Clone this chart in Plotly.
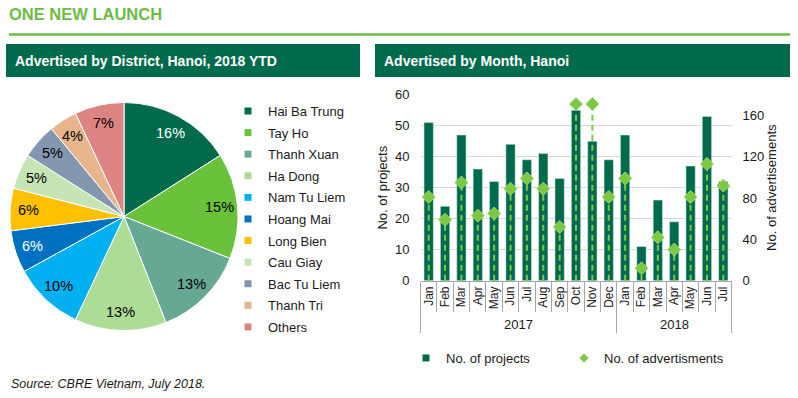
import math
import plotly.graph_objects as go

# ---------------- data ----------------
districts = ["Hai Ba Trung", "Tay Ho", "Thanh Xuan", "Ha Dong", "Nam Tu Liem",
             "Hoang Mai", "Long Bien", "Cau Giay", "Bac Tu Liem", "Thanh Tri", "Others"]
district_share = [16, 15, 13, 13, 10, 6, 6, 5, 5, 4, 7]
district_colors = ["#006A4D", "#69C23A", "#67A895", "#ADDC97", "#00B0F0",
                   "#0070C0", "#FFC000", "#C6E5B5", "#8497B0", "#E7B48B", "#DC8484"]
label_colors = ["white", "black", "black", "black", "black",
                "white", "black", "black", "black", "black", "black"]

months = ["Jan", "Feb", "Mar", "Apr", "May", "Jun", "Jul", "Aug", "Sep", "Oct", "Nov", "Dec",
          "Jan", "Feb", "Mar", "Apr", "May", "Jun", "Jul"]
years = ["2017"] * 12 + ["2018"] * 7
projects = [51, 24, 47, 36, 32, 44, 39, 41, 33, 55, 45, 39, 47, 11, 26, 19, 37, 53, 32]
adverts = [81, 59, 95, 63, 65, 89, 99, 89, 52, 171, 171, 81, 99, 12, 42, 30, 81, 113, 92]

W, H = 798, 398
DARK = "#006A4D"
LIME = "#6ABD45"
DOT = "#7DC843"
TXT = "#1a1a1a"
FONT = "Liberation Sans, Arial"


def px_x(v):
    return v / W


def px_y(v):
    return 1 - v / H


n = len(months)
xs = list(range(n))

# pie geometry (pixels)
PIE_L, PIE_R, PIE_T, PIE_B = 10, 238, 102.5, 330.5
pcx, pcy = (PIE_L + PIE_R) / 2, (PIE_T + PIE_B) / 2
prad = (PIE_R - PIE_L) / 2

fig = go.Figure()

# pie
fig.add_trace(go.Pie(
    labels=districts, values=district_share, sort=False, direction="clockwise",
    marker=dict(colors=district_colors, line=dict(color="white", width=1)),
    textinfo="none", showlegend=False,
    domain=dict(x=[px_x(PIE_L), px_x(PIE_R)], y=[px_y(PIE_B), px_y(PIE_T)]),
    hoverinfo="label+percent",
))

# pie legend entries
for i, (name, col) in enumerate(zip(districts, district_colors)):
    fig.add_trace(go.Scatter(
        x=[None], y=[None], mode="markers", name=name, legendgroup="d%d" % i,
        marker=dict(symbol="square", size=7, color=col), legend="legend",
        hoverinfo="skip",
    ))

# pie percentage labels at slice mid-angles
total = float(sum(district_share))
cum = 0.0
for v, tc in zip(district_share, label_colors):
    mid = (cum + v / 2) / total * 2 * math.pi
    cum += v
    lx_px = pcx + 0.84 * prad * math.sin(mid)
    ly_px = pcy - 0.84 * prad * math.cos(mid)
    fig.add_annotation(x=px_x(lx_px), y=px_y(ly_px), xref="paper", yref="paper",
                       text="%d%%" % round(v / total * 100), showarrow=False,
                       xanchor="center", yanchor="middle",
                       font=dict(size=14.5, color=tc, family=FONT))

# bars
fig.add_trace(go.Bar(
    x=xs, y=projects, name="No. of projects", marker=dict(color=DARK),
    showlegend=False, xaxis="x", yaxis="y",
))

# dashed drop lines for advertisements
lx, ly = [], []
for i, v in zip(xs, adverts):
    lx += [i, i, None]
    ly += [0, v, None]
fig.add_trace(go.Scatter(
    x=lx, y=ly, mode="lines", line=dict(color=DOT, width=2, dash="6px,4px"),
    showlegend=False, hoverinfo="skip", xaxis="x", yaxis="y2",
))
fig.add_trace(go.Scatter(
    x=xs, y=adverts, mode="markers", name="No. of advertisments",
    marker=dict(symbol="diamond", size=10, color=DOT, line=dict(color="#9BD86A", width=1)),
    showlegend=False, xaxis="x", yaxis="y2",
))

# bar-chart legend entries
fig.add_trace(go.Scatter(x=[None], y=[None], mode="markers", name="No. of projects",
                         marker=dict(symbol="square", size=7, color=DARK),
                         legend="legend2", hoverinfo="skip"))
fig.add_trace(go.Scatter(x=[None], y=[None], mode="markers", name="No. of advertisments",
                         marker=dict(symbol="diamond", size=7, color=DOT),
                         legend="legend3", hoverinfo="skip"))

# invisible trace for the year-divider axis
fig.add_trace(go.Scatter(x=[None], y=[None], xaxis="x3", yaxis="y", showlegend=False,
                         hoverinfo="skip"))

# year groups
groups = []
for i, yv in enumerate(years):
    if not groups or groups[-1][0] != yv:
        groups.append([yv, i, i])
    else:
        groups[-1][2] = i
year_bounds = [groups[0][1] - 0.5] + [g[2] + 0.5 for g in groups]

xdom = [px_x(420.5), px_x(731.5)]
ydom = [px_y(280.7), px_y(94.7)]
tickfont = dict(size=13, color=TXT, family=FONT)

fig.update_layout(
    width=W, height=H, margin=dict(l=0, r=0, t=0, b=0, autoexpand=False),
    paper_bgcolor="white", plot_bgcolor="white",
    font=dict(family=FONT, color=TXT),
    bargap=0.43,
    xaxis=dict(domain=xdom, range=[-0.5, n - 0.5], tickmode="array", tickvals=xs,
               ticktext=months, tickangle=-90, ticks="", showgrid=False,
               showline=True, linecolor="#A6A6A6", linewidth=1,
               tickfont=dict(size=12, color=TXT, family=FONT),
               minor=dict(tickmode="array", tickvals=[i - 0.5 for i in range(n + 1)],
                          ticks="outside", ticklen=30, tickcolor="#A6A6A6", tickwidth=1,
                          showgrid=False),
               zeroline=False, fixedrange=True),
    xaxis3=dict(domain=xdom, range=[-0.5, n - 0.5], overlaying="x", anchor="y",
                tickmode="array", tickvals=year_bounds, ticks="outside", ticklen=51,
                tickcolor="#A6A6A6", tickwidth=1, showticklabels=False,
                showgrid=False, showline=False, zeroline=False),
    yaxis=dict(domain=ydom, range=[0, 60], dtick=10, showgrid=True, gridcolor="#D9D9D9",
               zeroline=False, showline=False, ticks="", tickfont=tickfont,
               ticklabelstandoff=10, anchor="x",
               title=dict(text="No. of projects", font=dict(size=13), standoff=4)),
    yaxis2=dict(range=[0, 180], tickmode="array", tickvals=[0, 40, 80, 120, 160],
                overlaying="y", side="right", anchor="x", showgrid=False, zeroline=False,
                showline=False, ticks="", tickfont=tickfont, ticklabelstandoff=10,
                title=dict(text="No. of advertisements", font=dict(size=13), standoff=2)),
    legend=dict(x=px_x(228), y=px_y(96), xanchor="left", yanchor="top",
                font=dict(size=13, color=TXT), bgcolor="rgba(0,0,0,0)",
                tracegroupgap=1.7),
    legend2=dict(orientation="h", x=px_x(406), y=px_y(343), xanchor="left", yanchor="top",
                 font=dict(size=13, color=TXT), bgcolor="rgba(0,0,0,0)"),
    legend3=dict(orientation="h", x=px_x(564), y=px_y(343), xanchor="left", yanchor="top",
                 font=dict(size=13, color=TXT), bgcolor="rgba(0,0,0,0)"),
    showlegend=True,
)

# year labels
for yv, a, b in groups:
    fig.add_annotation(x=(a + b) / 2, y=px_y(324), xref="x", yref="paper", text=yv,
                       showarrow=False, font=dict(size=13, color=TXT),
                       xanchor="center", yanchor="middle")

# page decoration: title, rule, header boxes
fig.add_annotation(x=px_x(7), y=px_y(14), xref="paper", yref="paper", text="<b>ONE NEW LAUNCH</b>",
                   showarrow=False, xanchor="left", yanchor="middle",
                   font=dict(size=16.5, color=LIME, family=FONT))
fig.add_shape(type="line", xref="paper", yref="paper", x0=px_x(9), x1=px_x(790),
              y0=px_y(34.5), y1=px_y(34.5), line=dict(color=LIME, width=2.5))
for x0, x1, txt in [(6, 360, "Advertised by District, Hanoi, 2018 YTD"),
                    (375, 790, "Advertised by Month, Hanoi")]:
    fig.add_shape(type="rect", xref="paper", yref="paper", x0=px_x(x0), x1=px_x(x1),
                  y0=px_y(77), y1=px_y(44), fillcolor=DARK, line=dict(width=0), layer="below")
    fig.add_annotation(x=px_x(x0 + 7), y=px_y(61), xref="paper", yref="paper",
                       text="<b>" + txt + "</b>", showarrow=False, xanchor="left",
                       yanchor="middle", font=dict(size=14, color="white", family=FONT))

fig.add_annotation(x=px_x(9), y=px_y(384), xref="paper", yref="paper",
                   text="<i>Source: CBRE Vietnam, July 2018.</i>", showarrow=False,
                   xanchor="left", yanchor="middle",
                   font=dict(size=12.5, color=TXT, family=FONT))

fig.write_html("out.html", config={"displayModeBar": False},
               post_script="document.body.style.margin='0';")
